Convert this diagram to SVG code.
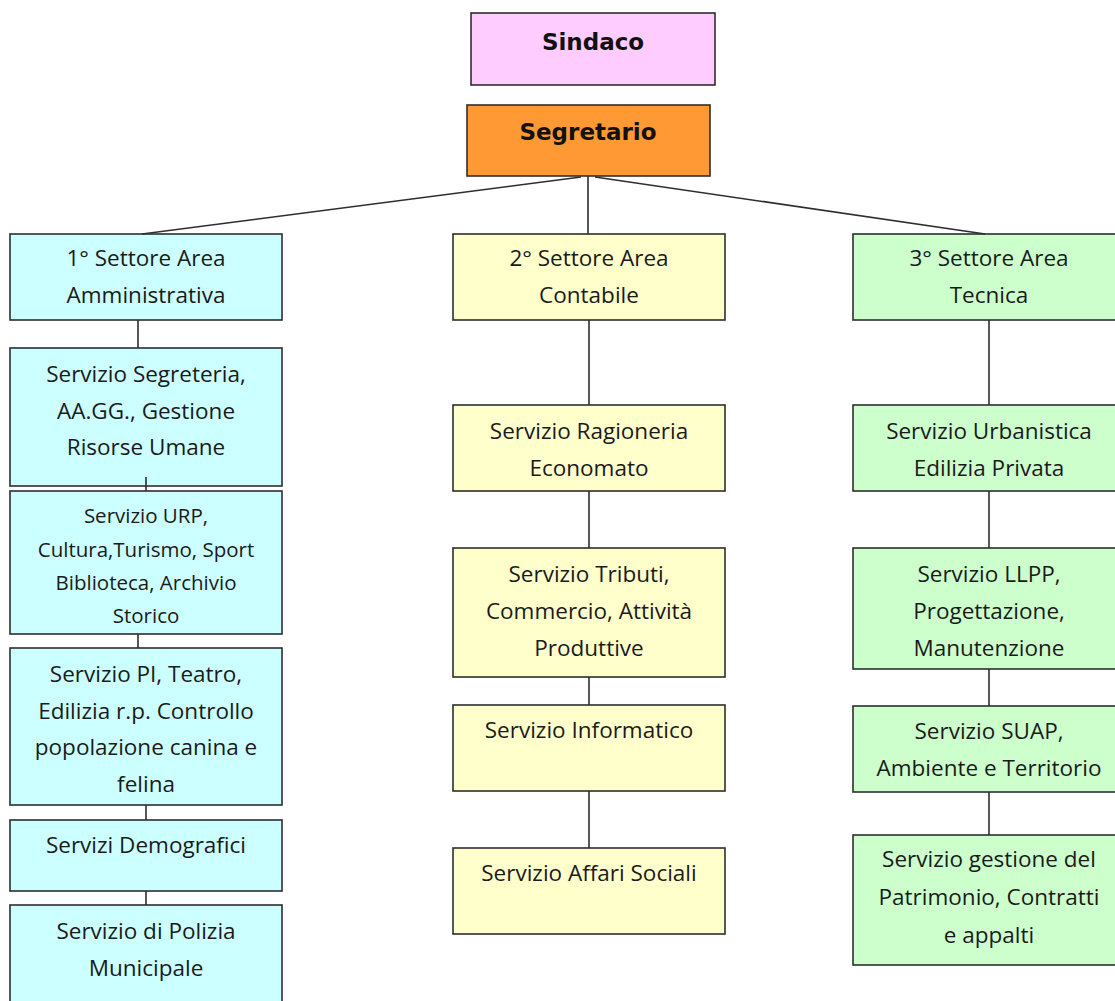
<svg xmlns="http://www.w3.org/2000/svg" width="1115" height="1001" viewBox="0 0 1115 1001">
<style>
.box{stroke:#2e2e2e;stroke-width:1.6}
.t{font-family:"Open Sans","Liberation Sans",sans-serif;font-size:22.5px;fill:#1a1a1a;text-anchor:middle}
.s{font-size:20.5px}
.h{font-family:"DejaVu Sans","Liberation Sans",sans-serif;font-weight:bold;font-size:23px;fill:#111;text-anchor:middle}
.c1{fill:#CCFFFF}.c2{fill:#FFFFCC}.c3{fill:#CCFFCC}
.ln{stroke:#2e2e2e;stroke-width:1.6;fill:none}
</style>
<rect width="1115" height="1001" fill="#ffffff"/>
<g id="sindaco"><rect class="box" x="471" y="13" width="244" height="72" fill="#FFCCFF"/><text class="h" x="593" y="50">Sindaco</text></g>
<g id="segretario"><rect class="box" x="467" y="105" width="243" height="71" fill="#FF9933"/><text class="h" x="588" y="140">Segretario</text></g>

<g id="settore1"><rect class="box c1" x="10" y="234" width="272" height="86"/><text class="t" x="146" y="266">1° Settore Area</text><text class="t" x="146" y="303">Amministrativa</text></g>
<g id="settore2"><rect class="box c2" x="453" y="234" width="272" height="86"/><text class="t" x="589" y="266">2° Settore Area</text><text class="t" x="589" y="303">Contabile</text></g>
<g id="settore3"><rect class="box c3" x="853" y="234" width="272" height="86"/><text class="t" x="989" y="266">3° Settore Area</text><text class="t" x="989" y="303">Tecnica</text></g>

<g id="segreteria"><rect class="box c1" x="10" y="348" width="272" height="138"/><text class="t" x="146" y="382">Servizio Segreteria,</text><text class="t" x="146" y="419">AA.GG., Gestione</text><text class="t" x="146" y="455">Risorse Umane</text></g>
<g id="urp"><rect class="box c1" x="10" y="491" width="272" height="143"/><text class="t s" x="146" y="523">Servizio URP,</text><text class="t s" x="146" y="557">Cultura,Turismo, Sport</text><text class="t s" x="146" y="590">Biblioteca, Archivio</text><text class="t s" x="146" y="623">Storico</text></g>
<g id="pi"><rect class="box c1" x="10" y="648" width="272" height="157"/><text class="t" x="146" y="682">Servizio PI, Teatro,</text><text class="t" x="146" y="719">Edilizia r.p. Controllo</text><text class="t" x="146" y="755">popolazione  canina e</text><text class="t" x="146" y="792">felina</text></g>
<g id="demografici"><rect class="box c1" x="10" y="820" width="272" height="71"/><text class="t" x="146" y="853">Servizi Demografici</text></g>
<g id="polizia"><rect class="box c1" x="10" y="905" width="272" height="110"/><text class="t" x="146" y="939">Servizio di Polizia</text><text class="t" x="146" y="976">Municipale</text></g>

<g id="ragioneria"><rect class="box c2" x="453" y="405" width="272" height="86"/><text class="t" x="589" y="439">Servizio Ragioneria</text><text class="t" x="589" y="476">Economato</text></g>
<g id="tributi"><rect class="box c2" x="453" y="548" width="272" height="129"/><text class="t" x="589" y="582">Servizio Tributi,</text><text class="t" x="589" y="619">Commercio, Attività</text><text class="t" x="589" y="656">Produttive</text></g>
<g id="informatico"><rect class="box c2" x="453" y="705" width="272" height="86"/><text class="t" x="589" y="738">Servizio Informatico</text></g>
<g id="sociali"><rect class="box c2" x="453" y="848" width="272" height="86"/><text class="t" x="589" y="881">Servizio Affari Sociali</text></g>

<g id="urbanistica"><rect class="box c3" x="853" y="405" width="272" height="86"/><text class="t" x="989" y="439">Servizio Urbanistica</text><text class="t" x="989" y="476">Edilizia Privata</text></g>
<g id="llpp"><rect class="box c3" x="853" y="548" width="272" height="121"/><text class="t" x="989" y="582">Servizio LLPP,</text><text class="t" x="989" y="619">Progettazione,</text><text class="t" x="989" y="656">Manutenzione</text></g>
<g id="suap"><rect class="box c3" x="853" y="706" width="272" height="86"/><text class="t" x="989" y="739">Servizio SUAP,</text><text class="t" x="989" y="776">Ambiente e Territorio</text></g>
<g id="patrimonio"><rect class="box c3" x="853" y="835" width="272" height="130"/><text class="t" x="989" y="867">Servizio gestione del</text><text class="t" x="989" y="905">Patrimonio, Contratti</text><text class="t" x="989" y="943">e appalti</text></g>

<g id="connectors" class="ln">
<line x1="588" y1="176" x2="588" y2="234"/>
<line x1="581" y1="177" x2="142" y2="234"/>
<line x1="595" y1="177" x2="985" y2="234"/>
<line x1="138" y1="320" x2="138" y2="348"/>
<line x1="146" y1="477" x2="146" y2="491"/>
<line x1="138" y1="634" x2="138" y2="648"/>
<line x1="146" y1="805" x2="146" y2="820"/>
<line x1="146" y1="891" x2="146" y2="905"/>
<line x1="589" y1="320" x2="589" y2="405"/>
<line x1="589" y1="491" x2="589" y2="548"/>
<line x1="589" y1="677" x2="589" y2="705"/>
<line x1="589" y1="791" x2="589" y2="848"/>
<line x1="989" y1="320" x2="989" y2="405"/>
<line x1="989" y1="491" x2="989" y2="548"/>
<line x1="989" y1="669" x2="989" y2="706"/>
<line x1="989" y1="792" x2="989" y2="835"/>
</g>
</svg>
